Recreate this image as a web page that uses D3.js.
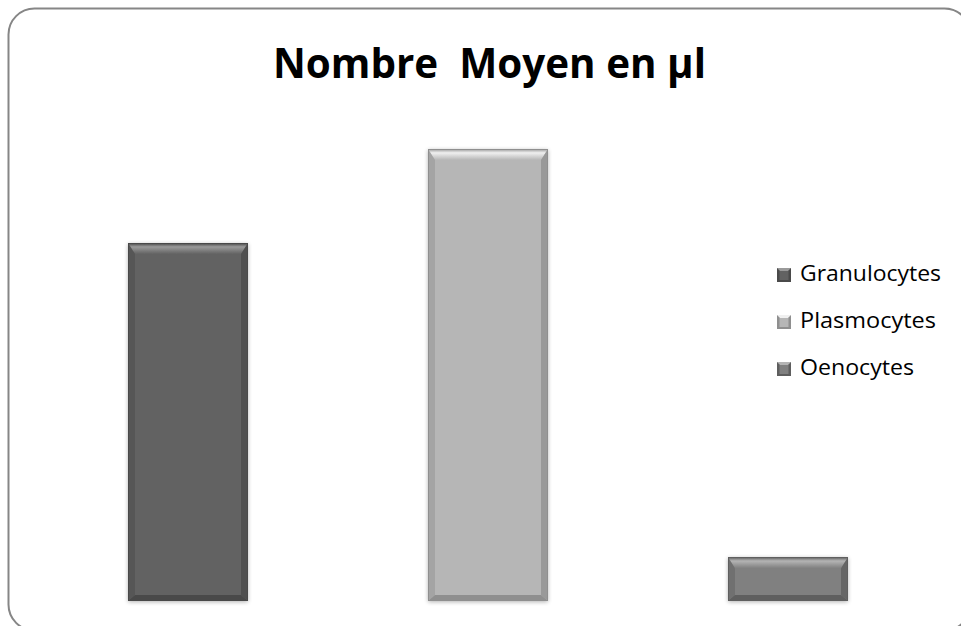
<!DOCTYPE html>
<html>
<head>
<meta charset="utf-8">
<script src="https://cdn.jsdelivr.net/npm/d3@7"></script>
<style>
  body { margin: 0; background: #fff; }
  svg { display: block; }
</style>
</head>
<body>
<div id="chart"></div>
<script>
// data
var categories = ["Granulocytes", "Plasmocytes", "Oenocytes"];
var values = [792, 1000, 97];
var yMax = 1000;
var titleText = "Nombre  Moyen en µl";

// bar tones (flat colour, light edge, dark edge)
var fills = ["#626262", "#b6b6b6", "#808080"];
var lights = ["#9a9a9a", "#f0f0f0", "#b4b4b4"];
var darks = ["#4a4a4a", "#8f8f8f", "#5e5e5e"];

var W = 961, H = 626;
var svg = d3.select("#chart").append("svg")
  .attr("width", W).attr("height", H);

var defs = svg.append("defs");
var shadow = defs.append("filter").attr("id", "shadow")
  .attr("x", "-10%").attr("y", "-10%").attr("width", "120%").attr("height", "120%");
shadow.append("feGaussianBlur").attr("in", "SourceAlpha").attr("stdDeviation", 2).attr("result", "b");
shadow.append("feOffset").attr("in", "b").attr("dx", 0).attr("dy", 1).attr("result", "o");
shadow.append("feComponentTransfer").attr("in", "o").attr("result", "s")
  .append("feFuncA").attr("type", "linear").attr("slope", 0.3);
var merge = shadow.append("feMerge");
merge.append("feMergeNode").attr("in", "s");
merge.append("feMergeNode").attr("in", "SourceGraphic");

// chart frame (runs off the right and bottom edges)
svg.append("rect")
  .attr("x", 8.5).attr("y", 8.5)
  .attr("width", 962).attr("height", 622)
  .attr("rx", 26).attr("ry", 26)
  .attr("fill", "#fff")
  .attr("stroke", "#868686")
  .attr("stroke-width", 2);

// title
svg.append("text")
  .attr("x", 489.5).attr("y", 78)
  .attr("text-anchor", "middle")
  .attr("font-family", "'Open Sans', sans-serif")
  .attr("font-weight", "bold")
  .attr("font-size", 42)
  .attr("textLength", 433)
  .attr("lengthAdjust", "spacingAndGlyphs")
  .attr("fill", "#000")
  .style("white-space", "pre")
  .text(titleText);

var x = d3.scaleBand().domain(categories).range([38, 938])
  .paddingInner(0.6).paddingOuter(0.3);
var y = d3.scaleLinear().domain([0, yMax]).range([601, 149]);

var bars = svg.selectAll("g.bar").data(categories).enter()
  .append("g").attr("class", "bar")
  .attr("filter", "url(#shadow)");

bars.each(function(c, i) {
  var g = d3.select(this);
  var x0 = x(c), x1 = x(c) + x.bandwidth();
  var y0 = y(values[i]), y1 = y(0);
  var bt = Math.min(11, (y1 - y0) / 3), bs = 7, bb = 6;

  g.append("rect")
    .attr("x", x0).attr("y", y0)
    .attr("width", x1 - x0).attr("height", y1 - y0)
    .attr("fill", fills[i]);

  // top bevel
  var gid = "top" + i;
  var lg = defs.append("linearGradient").attr("id", gid)
    .attr("x1", 0).attr("y1", 0).attr("x2", 0).attr("y2", 1);
  lg.append("stop").attr("offset", "0%").attr("stop-color", darks[i]);
  lg.append("stop").attr("offset", "12%").attr("stop-color", fills[i]);
  lg.append("stop").attr("offset", "35%").attr("stop-color", lights[i]);
  lg.append("stop").attr("offset", "100%").attr("stop-color", fills[i]);
  g.append("path")
    .attr("d", "M" + x0 + "," + y0 + "L" + x1 + "," + y0 +
      "L" + (x1 - bs) + "," + (y0 + bt) + "L" + (x0 + bs) + "," + (y0 + bt) + "Z")
    .attr("fill", "url(#" + gid + ")");

  // side bevels
  g.append("path")
    .attr("d", "M" + x0 + "," + y0 + "L" + (x0 + bs) + "," + (y0 + bt) +
      "L" + (x0 + bs) + "," + (y1 - bb) + "L" + x0 + "," + y1 + "Z")
    .attr("fill", darks[i]).attr("opacity", 0.45);
  g.append("path")
    .attr("d", "M" + x1 + "," + y0 + "L" + (x1 - bs) + "," + (y0 + bt) +
      "L" + (x1 - bs) + "," + (y1 - bb) + "L" + x1 + "," + y1 + "Z")
    .attr("fill", darks[i]).attr("opacity", 0.75);

  // bottom bevel
  g.append("path")
    .attr("d", "M" + x0 + "," + y1 + "L" + x1 + "," + y1 +
      "L" + (x1 - bs) + "," + (y1 - bb) + "L" + (x0 + bs) + "," + (y1 - bb) + "Z")
    .attr("fill", darks[i]);

  g.append("rect")
    .attr("x", x0 + 0.5).attr("y", y0 + 0.5)
    .attr("width", x1 - x0 - 1).attr("height", y1 - y0 - 1)
    .attr("fill", "none").attr("stroke", darks[i]).attr("stroke-width", 1);
});

// legend
var legend = svg.selectAll("g.legend").data(categories).enter()
  .append("g").attr("class", "legend")
  .attr("transform", function(d, i) { return "translate(777," + (268 + i * 47) + ")"; });

legend.each(function(c, i) {
  var g = d3.select(this);
  g.append("rect").attr("width", 14).attr("height", 14).attr("fill", darks[i]);
  g.append("path").attr("d", "M0,0L14,0L11,3L3,3Z").attr("fill", lights[i]);
  g.append("rect").attr("x", 2.5).attr("y", 3).attr("width", 9).attr("height", 9).attr("fill", fills[i]);
});

legend.append("text")
  .attr("x", 23).attr("y", 13)
  .attr("font-family", "'Open Sans', sans-serif")
  .attr("font-size", 22.5)
  .attr("fill", "#000")
  .attr("textLength", function(d) { return {Granulocytes: 141, Plasmocytes: 136, Oenocytes: 114}[d]; })
  .attr("lengthAdjust", "spacingAndGlyphs")
  .text(function(d) { return d; });
</script>
</body>
</html>
